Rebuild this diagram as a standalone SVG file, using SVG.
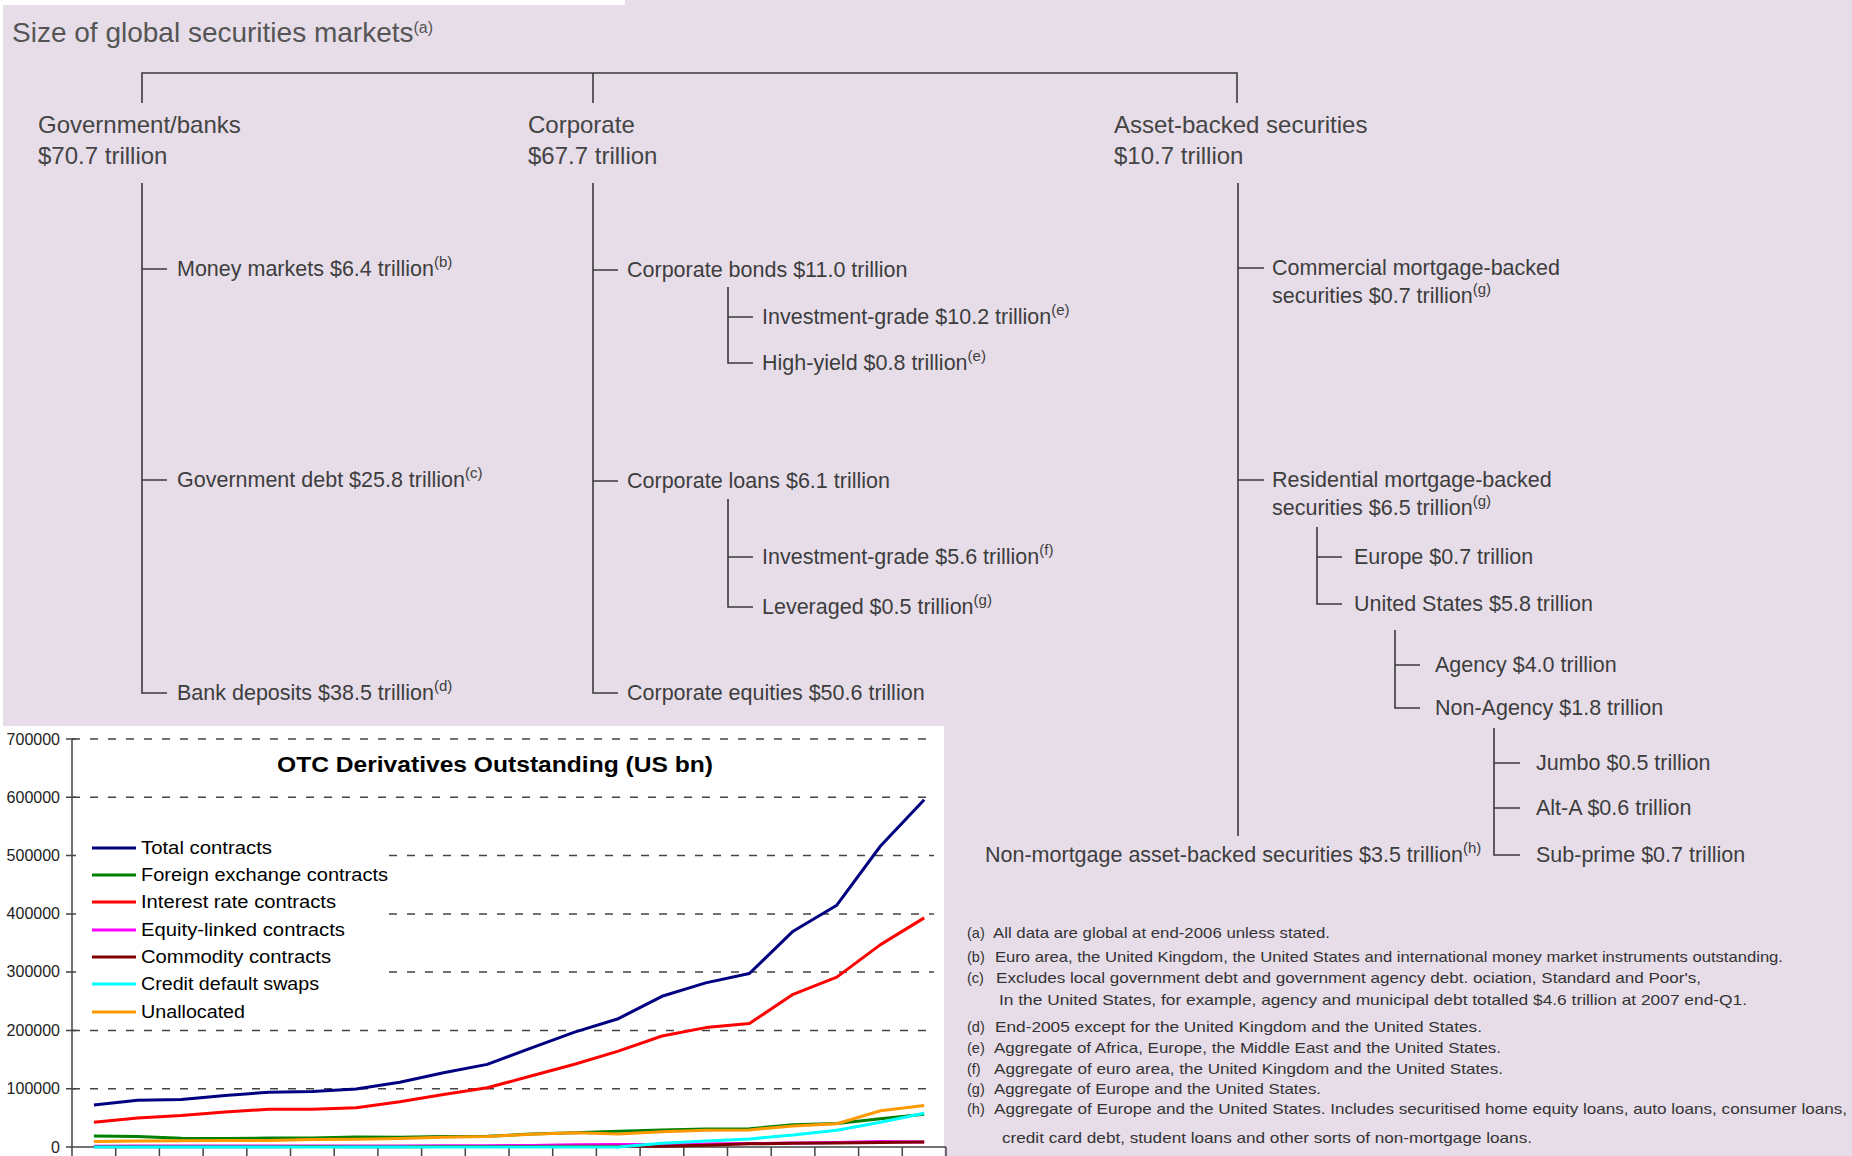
<svg xmlns="http://www.w3.org/2000/svg" width="1852" height="1156" viewBox="0 0 1852 1156">
<style>
text{font-family:"Liberation Sans",Arial,sans-serif}
.t{font-size:28px;fill:#555}
.h{font-size:24px;fill:#444}
.l{font-size:21.5px;fill:#3d3d3d}
.s{font-size:15px}
.fn{font-size:14.5px;fill:#333}
.cn{stroke:#3a3a3a;stroke-width:1.6;fill:none}
.grid{stroke:#444;stroke-width:1.5;stroke-dasharray:8 10;fill:none}
.ax{stroke:#444;stroke-width:1.5;fill:none}
.yl{font-size:16px;fill:#222;text-anchor:end}
.lg{font-size:17.5px;fill:#000}
.ser{fill:none;stroke-width:3;stroke-linejoin:round}
</style>
<rect x="0" y="0" width="1852" height="1156" fill="#fff"/>
<path d="M3,5 H625 V0 H1852 V1156 H3 Z" fill="#E7DDE9"/>

<text class="t" x="12" y="42">Size of global securities markets<tspan dy="-9" font-size="16">(a)</tspan></text>

<g id="connectors">
<path class="cn" d="M142,103 V73 H1237 V103 M593,73 V103"/>
<path class="cn" d="M142,183 V693 H167 M142,269 H167 M142,480 H167"/>
<path class="cn" d="M593,183 V693 H618 M593,270 H618 M593,481 H618"/>
<path class="cn" d="M728,287 V363 H753 M728,317 H753"/>
<path class="cn" d="M728,499 V607 H753 M728,557 H753"/>
<path class="cn" d="M1238,183 V836 M1238,268 H1264 M1238,480 H1264"/>
<path class="cn" d="M1317,527 V604 H1342 M1317,557 H1342"/>
<path class="cn" d="M1395,630 V708 H1420 M1395,665 H1420"/>
<path class="cn" d="M1494,728 V855 H1520 M1494,763 H1520 M1494,808 H1520"/>
</g>

<g id="gov"><text class="h" x="38" y="133">Government/banks</text><text class="h" x="38" y="164">$70.7 trillion</text></g>
<g id="corp"><text class="h" x="528" y="133">Corporate</text><text class="h" x="528" y="164">$67.7 trillion</text></g>
<g id="abs"><text class="h" x="1114" y="133">Asset-backed securities</text><text class="h" x="1114" y="164">$10.7 trillion</text></g>

<g id="money"><text class="l" x="177" y="276">Money markets $6.4 trillion<tspan class="s" dy="-9">(b)</tspan></text></g>
<g id="govdebt"><text class="l" x="177" y="487">Government debt $25.8 trillion<tspan class="s" dy="-9">(c)</tspan></text></g>
<g id="bank"><text class="l" x="177" y="700">Bank deposits $38.5 trillion<tspan class="s" dy="-9">(d)</tspan></text></g>

<g id="cbonds"><text class="l" x="627" y="277">Corporate bonds $11.0 trillion</text></g>
<g id="ig1"><text class="l" x="762" y="324">Investment-grade $10.2 trillion<tspan class="s" dy="-9">(e)</tspan></text></g>
<g id="hy"><text class="l" x="762" y="370">High-yield $0.8 trillion<tspan class="s" dy="-9">(e)</tspan></text></g>
<g id="cloans"><text class="l" x="627" y="488">Corporate loans $6.1 trillion</text></g>
<g id="ig2"><text class="l" x="762" y="564">Investment-grade $5.6 trillion<tspan class="s" dy="-9">(f)</tspan></text></g>
<g id="lev"><text class="l" x="762" y="614">Leveraged $0.5 trillion<tspan class="s" dy="-9">(g)</tspan></text></g>
<g id="cequ"><text class="l" x="627" y="700">Corporate equities $50.6 trillion</text></g>

<g id="cmbs"><text class="l" x="1272" y="275">Commercial mortgage-backed</text><text class="l" x="1272" y="303">securities $0.7 trillion<tspan class="s" dy="-9">(g)</tspan></text></g>
<g id="rmbs"><text class="l" x="1272" y="487">Residential mortgage-backed</text><text class="l" x="1272" y="515">securities $6.5 trillion<tspan class="s" dy="-9">(g)</tspan></text></g>
<g id="europe"><text class="l" x="1354" y="564">Europe $0.7 trillion</text></g>
<g id="us"><text class="l" x="1354" y="611">United States $5.8 trillion</text></g>
<g id="agency"><text class="l" x="1435" y="672">Agency $4.0 trillion</text></g>
<g id="nonagency"><text class="l" x="1435" y="715">Non-Agency $1.8 trillion</text></g>
<g id="jumbo"><text class="l" x="1536" y="770">Jumbo $0.5 trillion</text></g>
<g id="alta"><text class="l" x="1536" y="815">Alt-A $0.6 trillion</text></g>
<g id="subprime"><text class="l" x="1536" y="862">Sub-prime $0.7 trillion</text></g>
<g id="nonmort"><text class="l" x="985" y="862">Non-mortgage asset-backed securities $3.5 trillion<tspan class="s" dy="-9">(h)</tspan></text></g>

<g id="footnotes">
<text class="fn" x="967" y="938">(a)</text><text class="fn" x="993" y="938" textLength="337" lengthAdjust="spacingAndGlyphs">All data are global at end-2006 unless stated.</text>
<text class="fn" x="967" y="962">(b)</text><text class="fn" x="995" y="962" textLength="788" lengthAdjust="spacingAndGlyphs">Euro area, the United Kingdom, the United States and international money market instruments outstanding.</text>
<text class="fn" x="967" y="983">(c)</text><text class="fn" x="996" y="983" textLength="705" lengthAdjust="spacingAndGlyphs">Excludes local government debt and government agency debt.  ociation, Standard and Poor's,</text>
<text class="fn" x="999" y="1005" textLength="748" lengthAdjust="spacingAndGlyphs">In the United States, for example, agency and municipal debt totalled $4.6 trillion at 2007 end-Q1.</text>
<text class="fn" x="967" y="1032">(d)</text><text class="fn" x="995" y="1032" textLength="487" lengthAdjust="spacingAndGlyphs">End-2005 except for the United Kingdom and the United States.</text>
<text class="fn" x="967" y="1053">(e)</text><text class="fn" x="994" y="1053" textLength="507" lengthAdjust="spacingAndGlyphs">Aggregate of Africa, Europe, the Middle East and the United States.</text>
<text class="fn" x="967" y="1074">(f)</text><text class="fn" x="994" y="1074" textLength="509" lengthAdjust="spacingAndGlyphs">Aggregate of euro area, the United Kingdom and the United States.</text>
<text class="fn" x="967" y="1094">(g)</text><text class="fn" x="994" y="1094" textLength="327" lengthAdjust="spacingAndGlyphs">Aggregate of Europe and the United States.</text>
<text class="fn" x="967" y="1114">(h)</text><text class="fn" x="994" y="1114" textLength="853" lengthAdjust="spacingAndGlyphs">Aggregate of Europe and the United States.  Includes securitised home equity loans, auto loans, consumer loans,</text>
<text class="fn" x="1002" y="1143" textLength="530" lengthAdjust="spacingAndGlyphs">credit card debt, student loans and other sorts of non-mortgage loans.</text>
</g>

<g id="chart">
<rect x="0" y="726" width="944" height="430" fill="#fff"/>
<g id="gridlines">
<path class="grid" d="M72,739 H934 M72,797.3 H934 M389,855.6 H934 M389,913.9 H934 M389,972.1 H934 M72,1030.4 H934 M72,1088.7 H934"/>
</g>
<path class="ax" d="M72,739 V1147 H946"/>
<path class="ax" d="M66,739 H76 M66,797.3 H76 M66,855.6 H76 M66,913.9 H76 M66,972.1 H76 M66,1030.4 H76 M66,1088.7 H76 M66,1147 H72"/>
<path class="ax" d="M72,1147 V1156 M115.7,1147 V1156 M159.4,1147 V1156 M203.1,1147 V1156 M246.8,1147 V1156 M290.5,1147 V1156 M334.2,1147 V1156 M377.9,1147 V1156 M421.6,1147 V1156 M465.3,1147 V1156 M509,1147 V1156 M552.7,1147 V1156 M596.4,1147 V1156 M640.1,1147 V1156 M683.8,1147 V1156 M727.5,1147 V1156 M771.2,1147 V1156 M814.9,1147 V1156 M858.6,1147 V1156 M902.3,1147 V1156 M946,1147 V1156"/>
<g id="ylabels">
<text class="yl" x="60" y="745">700000</text>
<text class="yl" x="60" y="803">600000</text>
<text class="yl" x="60" y="861">500000</text>
<text class="yl" x="60" y="919">400000</text>
<text class="yl" x="60" y="977">300000</text>
<text class="yl" x="60" y="1036">200000</text>
<text class="yl" x="60" y="1094">100000</text>
<text class="yl" x="60" y="1153">0</text>
</g>
<text x="277" y="772" font-size="22" font-weight="bold" fill="#000" textLength="436" lengthAdjust="spacingAndGlyphs">OTC Derivatives Outstanding (US bn)</text>
<g id="series">
<polyline class="ser" stroke="#000080" points="93.9,1105.0 137.6,1100.2 181.3,1099.5 225.0,1095.6 268.7,1092.2 312.4,1091.5 356.1,1088.9 399.8,1082.2 443.5,1072.7 487.2,1064.4 530.9,1048.1 574.6,1032.1 618.3,1018.7 662.0,996.3 705.7,982.9 749.4,973.5 793.1,931.2 836.8,905.2 880.5,846.0 924.2,799.8"/>
<polyline class="ser" stroke="#008000" points="93.9,1136.1 137.6,1136.5 181.3,1138.3 225.0,1138.6 268.7,1138.0 312.4,1137.9 356.1,1137.1 399.8,1137.2 443.5,1136.5 487.2,1136.3 530.9,1134.1 574.6,1132.7 618.3,1131.3 662.0,1129.9 705.7,1128.9 749.4,1128.7 793.1,1124.8 836.8,1123.5 880.5,1118.7 924.2,1114.2"/>
<polyline class="ser" stroke="#FF0000" points="93.9,1122.3 137.6,1117.9 181.3,1115.5 225.0,1112.0 268.7,1109.3 312.4,1109.3 356.1,1107.7 399.8,1101.8 443.5,1094.6 487.2,1087.8 530.9,1076.0 574.6,1064.2 618.3,1051.1 662.0,1036.0 705.7,1027.6 749.4,1023.5 793.1,994.3 836.8,977.1 880.5,944.6 924.2,917.9"/>
<polyline class="ser" stroke="#FF00FF" points="93.9,1146.3 137.6,1146.1 181.3,1146.1 225.0,1145.9 268.7,1146.0 312.4,1145.9 356.1,1145.9 399.8,1145.9 443.5,1145.7 487.2,1145.7 530.9,1145.4 574.6,1144.8 618.3,1144.4 662.0,1144.4 705.7,1144.0 749.4,1143.6 793.1,1143.0 836.8,1142.6 880.5,1141.5 924.2,1142.1"/>
<polyline class="ser" stroke="#800000" points="93.9,1146.7 137.6,1146.8 181.3,1146.7 225.0,1146.7 268.7,1146.7 312.4,1146.6 356.1,1146.7 399.8,1146.7 443.5,1146.5 487.2,1146.5 530.9,1146.4 574.6,1146.2 618.3,1146.3 662.0,1146.2 705.7,1145.3 749.4,1143.8 793.1,1143.3 836.8,1142.9 880.5,1142.6 924.2,1142.1"/>
<polyline class="ser" stroke="#00FFFF" points="93.9,1147 137.6,1147 181.3,1147 225.0,1147 268.7,1147 312.4,1147 356.1,1147 399.8,1147 443.5,1147 487.2,1147 530.9,1147 574.6,1147 618.3,1147 662.0,1143.3 705.7,1141.1 749.4,1138.9 793.1,1135.1 836.8,1130.3 880.5,1122.2 924.2,1113.3"/>
<polyline class="ser" stroke="#FF9900" points="93.9,1141.6 137.6,1140.9 181.3,1140.7 225.0,1140.6 268.7,1140.4 312.4,1139.5 356.1,1139.3 399.8,1138.6 443.5,1137.2 487.2,1136.6 530.9,1134.2 574.6,1132.7 618.3,1134.1 662.0,1131.7 705.7,1130.2 749.4,1129.9 793.1,1126.0 836.8,1123.7 880.5,1110.8 924.2,1105.6"/>
</g>
<g id="legend">
<path class="ser" stroke="#000080" d="M92,848 H136"/><text class="lg" x="141" y="854" textLength="131" lengthAdjust="spacingAndGlyphs">Total contracts</text>
<path class="ser" stroke="#008000" d="M92,875 H136"/><text class="lg" x="141" y="881" textLength="247" lengthAdjust="spacingAndGlyphs">Foreign exchange contracts</text>
<path class="ser" stroke="#FF0000" d="M92,902 H136"/><text class="lg" x="141" y="908" textLength="195" lengthAdjust="spacingAndGlyphs">Interest rate contracts</text>
<path class="ser" stroke="#FF00FF" d="M92,930 H136"/><text class="lg" x="141" y="936" textLength="204" lengthAdjust="spacingAndGlyphs">Equity-linked contracts</text>
<path class="ser" stroke="#800000" d="M92,957 H136"/><text class="lg" x="141" y="963" textLength="190" lengthAdjust="spacingAndGlyphs">Commodity contracts</text>
<path class="ser" stroke="#00FFFF" d="M92,984 H136"/><text class="lg" x="141" y="990" textLength="178" lengthAdjust="spacingAndGlyphs">Credit default swaps</text>
<path class="ser" stroke="#FF9900" d="M92,1012 H136"/><text class="lg" x="141" y="1018" textLength="104" lengthAdjust="spacingAndGlyphs">Unallocated</text>
</g>
</g>
</svg>
